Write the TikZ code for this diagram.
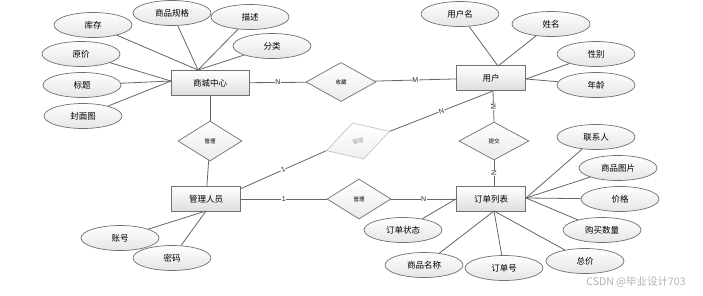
\documentclass[tikz,border=0pt]{standalone}
\usepackage{fontspec}
\newfontfamily\cjk{Noto Sans CJK SC}
\newfontfamily\lat{Liberation Sans}
\usetikzlibrary{shapes.geometric}
\definecolor{ln}{HTML}{666666}
\definecolor{bd}{HTML}{707070}
\tikzset{
  ent/.style={draw=bd, line width=0.9pt, rectangle, minimum width=69pt, minimum height=25pt, inner sep=0pt,
    top color=white, bottom color=black!13, font=\cjk\fontsize{8.5}{9}\selectfont},
  attr/.style={draw=bd, line width=0.7pt, ellipse, minimum width=78pt, minimum height=25pt, inner sep=0pt,
    top color=white, bottom color=black!10, font=\cjk\fontsize{8.5}{9}\selectfont},
  rel/.style={draw=bd, line width=0.7pt, diamond, minimum width=64pt, minimum height=40pt, inner sep=0pt,
    top color=white, bottom color=black!8, font=\cjk\fontsize{5.5}{6}\selectfont},
  con/.style={draw=ln, line width=0.8pt},
  lbl/.style={fill=white, inner sep=0.6pt, font=\lat\fontsize{7}{7}\selectfont, text=black!85},
}
\begin{document}
\begin{tikzpicture}[x=1pt, y=-1pt]
\useasboundingbox[fill=white] (0,0) rectangle (703,295);

% entities
\node[ent, minimum width=78pt] (sc) at (210,83) {商城中心};
\node[ent] (yh) at (491,78) {用户};
\node[ent] (gl) at (206,199) {管理人员};
\node[ent] (dd) at (491,199) {订单列表};

% relationships
\node[rel, minimum width=70pt, minimum height=39pt] (sc-r) at (341,82) {收藏};
\node[rel] (gl-r1) at (210,141) {管理};
\node[rel] (gl-r2) at (359,199) {管理};
\node[rel, minimum width=70pt, minimum height=38pt] (tj) at (494,141) {提交};
\node[draw=black!25, line width=0.6pt, diamond, minimum width=66pt, minimum height=38pt, inner sep=0pt,
  top color=white, bottom color=black!6, rotate=17, font=\cjk\fontsize{5.5}{6}\selectfont, text=black!40]
  (fm) at (358,141) {管理};

% attributes of 商城中心
\node[attr] (kc) at (93,25) {库存};
\node[attr] (gg) at (172,13) {商品规格};
\node[attr] (ms) at (250,17) {描述};
\node[attr] (fl) at (272,46) {分类};
\node[attr] (yj) at (81,54) {原价};
\node[attr] (bt) at (82,85) {标题};
\node[attr] (fm2) at (83,116) {封面图};
% attributes of 用户
\node[attr] (yhm) at (460,14) {用户名};
\node[attr] (xm) at (551,24) {姓名};
\node[attr] (xb) at (596,54) {性别};
\node[attr] (nl) at (596,85) {年龄};
% attributes of 管理人员
\node[attr] (zh) at (120,238) {账号};
\node[attr] (mm) at (172,258) {密码};
% attributes of 订单列表
\node[attr] (lxr) at (596,137) {联系人};
\node[attr] (sptp) at (618,168) {商品图片};
\node[attr] (jg) at (620,199) {价格};
\node[attr] (gmsl) at (602,230) {购买数量};
\node[attr] (zj) at (585,261) {总价};
\node[attr] (ddh) at (504,268) {订单号};
\node[attr] (spmc) at (424,265) {商品名称};
\node[attr] (ddzt) at (403,230) {订单状态};

% anchor points on entities
\coordinate (sc-t) at (198,70);
\coordinate (sc-l) at (171,81);
\coordinate (yh-t) at (498,66);
\coordinate (yh-r) at (526,79);
\coordinate (yh-b) at (493,91);
\coordinate (gl-b) at (206,211);
\coordinate (gl-tr) at (240,189);
\coordinate (dd-b) at (494,211);
\coordinate (dd-r) at (526,198);
\coordinate (dd-l) at (456,199);

% attribute connectors
\foreach \a in {kc,gg,ms,fl} \draw[con] (\a) -- (sc-t);
\foreach \a in {yj,bt,fm2} \draw[con] (\a) -- (sc-l);
\foreach \a in {yhm,xm} \draw[con] (\a) -- (yh-t);
\foreach \a in {xb,nl} \draw[con] (\a) -- (yh-r);
\foreach \a in {zh,mm} \draw[con] (\a) -- (gl-b);
\foreach \a in {lxr,sptp,jg,gmsl} \draw[con] (\a) -- (dd-r);
\foreach \a in {spmc,ddh,zj} \draw[con] (\a) -- (dd-b);
\draw[con] (ddzt) -- (dd-l);

% relationship connectors
\draw[con] (sc) -- node[lbl, pos=0.5] {N} (sc-r);
\draw[con] (sc-r) -- node[lbl, pos=0.5] {M} (yh);
\draw[con] (sc) -- (gl-r1);
\draw[con] (gl-r1) -- (gl);
\draw[con] (gl) -- node[lbl, pos=0.5] {1} (gl-r2);
\draw[con] (gl-r2) -- node[lbl, pos=0.5] {N} (dd);
\draw[con] (yh-b) -- node[lbl, pos=0.5, rotate=90] {M} (tj.north);
\draw[con] (tj.south) -- node[lbl, pos=0.5, rotate=90] {N} (dd.north -| tj.south);
\draw[con] (gl-tr) -- node[lbl, pos=0.5, rotate=25] {1} (fm.west);
\draw[con] (fm.east) -- node[lbl, pos=0.5, rotate=20] {N} (yh-b);

% watermark
\node[font=\cjk\fontsize{10.5}{11}\selectfont, text=black!30, inner sep=0pt] (wm) at (636,282) {CSDN @毕业设计703};
\end{tikzpicture}
\end{document}
